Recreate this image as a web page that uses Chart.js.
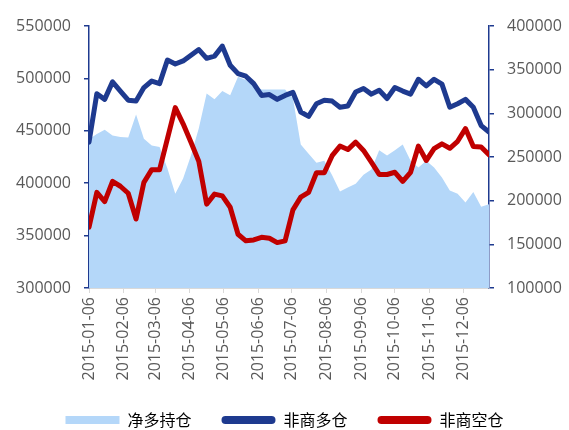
<!DOCTYPE html>
<html>
<head>
<meta charset="utf-8">
<script src="https://cdn.jsdelivr.net/npm/chart.js@4"></script>
<style>
  body { margin: 0; background: #fff; }
</style>
</head>
<body>
<canvas id="cotChart" width="569" height="430"></canvas>
<script>
// weekly report dates (Tuesdays)
const weeks = [
  "2015-01-06", "2015-01-13", "2015-01-20", "2015-01-27",
  "2015-02-03", "2015-02-10", "2015-02-17", "2015-02-24",
  "2015-03-03", "2015-03-10", "2015-03-17", "2015-03-24", "2015-03-31",
  "2015-04-07", "2015-04-14", "2015-04-21", "2015-04-28",
  "2015-05-05", "2015-05-12", "2015-05-19", "2015-05-26",
  "2015-06-02", "2015-06-09", "2015-06-16", "2015-06-23", "2015-06-30",
  "2015-07-07", "2015-07-14", "2015-07-21", "2015-07-28",
  "2015-08-04", "2015-08-11", "2015-08-18", "2015-08-25",
  "2015-09-01", "2015-09-08", "2015-09-15", "2015-09-22", "2015-09-29",
  "2015-10-06", "2015-10-13", "2015-10-20", "2015-10-27",
  "2015-11-03", "2015-11-10", "2015-11-17", "2015-11-24",
  "2015-12-01", "2015-12-08", "2015-12-15", "2015-12-22", "2015-12-29"
];

// tick labels on the date axis
const monthTicks = [
  "2015-01-06", "2015-02-06", "2015-03-06", "2015-04-06", "2015-05-06", "2015-06-06",
  "2015-07-06", "2015-08-06", "2015-09-06", "2015-10-06", "2015-11-06", "2015-12-06"
];

// 净多持仓 (left axis)
const netLong = [
  442000, 447000, 451000, 445500, 444000, 443500, 465500, 442500, 436000, 434500,
  414000, 390000, 404500, 426500, 452500, 485500, 480000, 488000, 484000, 501500,
  498500, 493500, 489500, 489500, 489500, 489500, 481000, 437000, 428000, 419500,
  421500, 407500, 392000, 396000, 399500, 408000, 413000, 431500, 426500, 431500,
  437000, 421500, 415000, 421500, 415000, 405500, 393000, 390000, 381500, 391500,
  377500, 380000
];

// 非商多仓 (right axis)
const nonCommLong = [
  267000, 322500, 316000, 336000, 325500, 315000, 314000, 329500, 337000, 334000,
  361000, 356500, 360000, 366500, 373000, 363000, 365500, 377000, 355000, 345500,
  342500, 334000, 320500, 321500, 316000, 320500, 324000, 301500, 296500, 311000,
  315000, 314000, 307000, 308500, 324500, 328500, 322000, 326500, 317000, 329500,
  325500, 322000, 339000, 331500, 339000, 333500, 307000, 311000, 316000, 307000,
  286000, 278500
];

// 非商空仓 (right axis)
const nonCommShort = [
  169500, 209500, 199000, 222000, 216500, 208500, 179000, 221000, 235500, 235500,
  271000, 306500, 288000, 267000, 245000, 196000, 207500, 205500, 192500, 161500,
  154000, 155000, 158000, 157000, 152000, 154000, 189500, 204000, 209500, 232000,
  232000, 251500, 262500, 258500, 267000, 257500, 244000, 230000, 230000, 232500,
  222000, 232500, 262500, 246000, 259500, 265000, 260000, 268000, 282500, 262000,
  261500, 252500
];

const seriesNames = ["净多持仓", "非商多仓", "非商空仓"];

const DAY = 86400000;
const start = Date.parse(weeks[0]);
const dayOf = (d) => (Date.parse(d) - start) / DAY;
const toPoints = (vals) => vals.map((v, i) => ({ x: dayOf(weeks[i]), y: v }));

const tickLabel = {};
monthTicks.forEach((d) => { tickLabel[dayOf(d)] = d; });

const AREA = "#B4D7F9";
const NAVY = "#1E3A8F";
const RED = "#C00000";
const TEXT = "#595959";
const tickFont = { family: "'Open Sans'", size: 16 };
const plain = (v) => String(v);

const ctx = document.getElementById("cotChart").getContext("2d");
new Chart(ctx, {
  type: "line",
  data: {
    datasets: [
      {
        label: seriesNames[0],
        data: toPoints(netLong),
        yAxisID: "y",
        fill: "start",
        backgroundColor: AREA,
        borderColor: AREA,
        borderWidth: 0,
        pointRadius: 0,
        tension: 0,
        order: 3,
      },
      {
        label: seriesNames[1],
        data: toPoints(nonCommLong),
        yAxisID: "y2",
        borderColor: NAVY,
        backgroundColor: NAVY,
        borderWidth: 5,
        borderJoinStyle: "round",
        borderCapStyle: "round",
        pointRadius: 0,
        tension: 0,
        order: 2,
      },
      {
        label: seriesNames[2],
        data: toPoints(nonCommShort),
        yAxisID: "y2",
        borderColor: RED,
        backgroundColor: RED,
        borderWidth: 5,
        borderJoinStyle: "round",
        borderCapStyle: "round",
        pointRadius: 0,
        tension: 0,
        order: 1,
      },
    ],
  },
  options: {
    responsive: false,
    devicePixelRatio: 1,
    animation: false,
    layout: { padding: { top: 26, left: 0, right: 0, bottom: -8 } },
    plugins: {
      tooltip: { enabled: false },
      legend: {
        position: "bottom",
        labels: {
          boxWidth: 54,
          boxHeight: 8,
          padding: 30,
          color: TEXT,
          font: { family: "'Noto Sans CJK SC'", size: 16 },
          useBorderRadius: true,
          generateLabels: () => [
            { text: seriesNames[0], fillStyle: AREA, strokeStyle: AREA, lineWidth: 0, borderRadius: 0, datasetIndex: 0, hidden: false },
            { text: seriesNames[1], fillStyle: NAVY, strokeStyle: NAVY, lineWidth: 0, borderRadius: 4, datasetIndex: 1, hidden: false },
            { text: seriesNames[2], fillStyle: RED, strokeStyle: RED, lineWidth: 0, borderRadius: 4, datasetIndex: 2, hidden: false },
          ],
        },
      },
    },
    scales: {
      x: {
        type: "linear",
        min: 0,
        max: dayOf(weeks[weeks.length - 1]),
        afterBuildTicks: (scale) => {
          scale.ticks = monthTicks.map((d) => ({ value: dayOf(d) }));
        },
        afterFit: (scale) => { scale.height = 94; },
        ticks: {
          autoSkip: false,
          minRotation: 90,
          maxRotation: 90,
          padding: 4,
          color: TEXT,
          font: tickFont,
          callback: (v) => tickLabel[v] || "",
        },
        grid: { drawOnChartArea: false, color: "#D9D9D9", tickLength: 5 },
        border: { color: "#D9D9D9", width: 2 },
      },
      y: {
        position: "left",
        min: 300000,
        max: 550000,
        afterFit: (scale) => { scale.width = 89; },
        ticks: { stepSize: 50000, padding: 13, color: TEXT, font: tickFont, callback: plain },
        grid: { drawOnChartArea: false, color: NAVY, tickLength: 5, lineWidth: 1.5 },
        border: { color: NAVY, width: 1.5 },
      },
      y2: {
        position: "right",
        min: 100000,
        max: 400000,
        afterFit: (scale) => { scale.width = 80; },
        ticks: { stepSize: 50000, padding: 13, color: TEXT, font: tickFont, callback: plain },
        grid: { drawOnChartArea: false, color: NAVY, tickLength: 5, lineWidth: 1.5 },
        border: { color: NAVY, width: 1.5 },
      },
    },
  },
});
</script>
</body>
</html>
